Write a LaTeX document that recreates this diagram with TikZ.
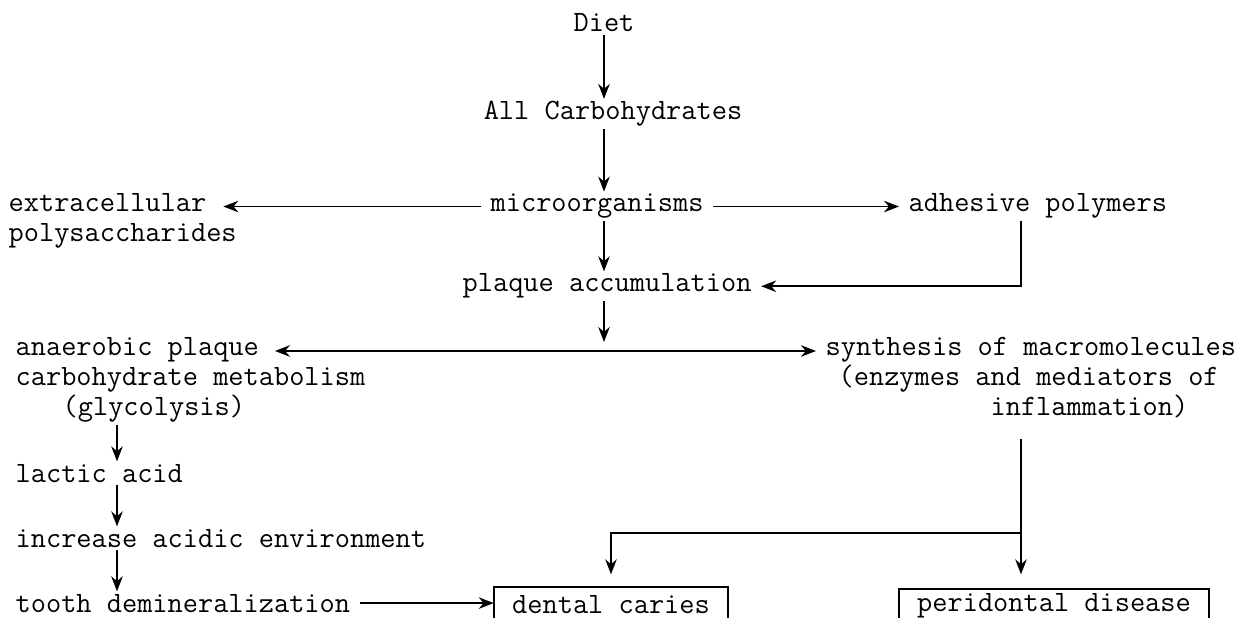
\documentclass[tikz,border=0pt]{standalone}
\usetikzlibrary{arrows.meta, positioning, calc}
\tikzset{
  every picture/.style={line width=1pt},
  txt/.style={font=\ttfamily\fontsize{16.8}{17.3}\selectfont, inner xsep=5pt, inner ysep=1pt, align=left},
  framed/.style={txt, inner xsep=10pt},
  arrow/.style={-{Stealth[length=3mm, width=2.3mm]}, line width=1pt},
  both/.style={{Stealth[length=3mm, width=2.3mm]}-{Stealth[length=3mm, width=2.3mm]}, line width=1pt},
}
\begin{document}
\begin{tikzpicture}[x=0.02cm, y=-0.02cm]
  \useasboundingbox (0,0) rectangle (1252,618);
  % columns for the vertical connectors
  \coordinate (spine) at (604,0);
  \coordinate (lcol) at (117,0);
  \coordinate (rcol) at (1021,0);
  \coordinate (split) at (604,351);
  \coordinate (fork) at (1021,533);
  % top chain
  \node[txt, anchor=base] (diet) at (604,32) {Diet};
  \node[txt, anchor=base] (carbs) at (613,120) {All Carbohydrates};
  \node[txt, anchor=base west] (micro) at (481,212) {microorganisms};
  \node[txt, anchor=base west] (extra) at (-1,242) {extracellular\\polysaccharides};
  \node[txt, anchor=base west] (adhesive) at (899,212) {adhesive polymers};
  \node[txt, anchor=base west] (plaque) at (453,292) {plaque accumulation};
  % two branches
  \node[txt, anchor=base west] (anaer) at (6,416) {anaerobic plaque\\carbohydrate metabolism\\\hspace*{0.94cm}(glycolysis)};
  \node[txt, anchor=base west] (synth) at (816,416) {synthesis of macromolecules\\\hspace*{0.26cm}(enzymes and mediators of\\\hspace*{3.3cm}inflammation)};
  \node[txt, anchor=base west] (lactic) at (6,482) {lactic acid};
  \node[txt, anchor=base west] (increase) at (6,547) {increase acidic environment};
  \node[txt, anchor=base west] (tooth) at (6,612) {tooth demineralization};
  % outcomes, boxes run off the lower edge
  \node[framed, anchor=base] (caries) at (611,613) {dental caries};
  \node[framed, anchor=base] (perio) at (1054,611) {peridontal disease};
  \draw ([yshift=-0.3cm]caries.south west) |- ([yshift=0.1cm]caries.north east) -- ([yshift=-0.3cm]caries.south east);
  \draw ([yshift=-0.3cm]perio.south west) |- ([yshift=0.02cm]perio.north east) -- ([yshift=-0.3cm]perio.south east);
  % connectors
  \draw[arrow] (spine |- diet.south) -- (spine |- carbs.north);
  \draw[arrow] (spine |- carbs.south) -- (spine |- micro.north);
  \draw[arrow, shorten >=-0.46cm] (micro.west) -- (micro.west -| extra.east);
  \draw[arrow] (micro.east) -- (micro.east -| adhesive.west);
  \draw[arrow] (spine |- micro.south) -- (spine |- plaque.north);
  \draw[arrow] (rcol |- adhesive.south) |- (plaque.east);
  \draw[arrow, shorten >=0.18cm] (spine |- plaque.south) -- (split);
  \draw[both, shorten <=-2cm] (split -| anaer.east) -- (split -| synth.west);
  \draw[arrow] (lcol |- anaer.south) -- (lcol |- lactic.north);
  \draw[arrow] (lcol |- lactic.south) -- (lcol |- increase.north);
  \draw[arrow] (lcol |- increase.south) -- (lcol |- tooth.north);
  \draw[arrow] (tooth.east) -- (tooth.east -| caries.west);
  \draw[arrow, shorten <=0.36cm, shorten >=0.32cm] (rcol |- synth.south) -- (rcol |- perio.north);
  \draw[arrow, shorten >=0.36cm] (fork) -| (caries.north);
\end{tikzpicture}
\end{document}
